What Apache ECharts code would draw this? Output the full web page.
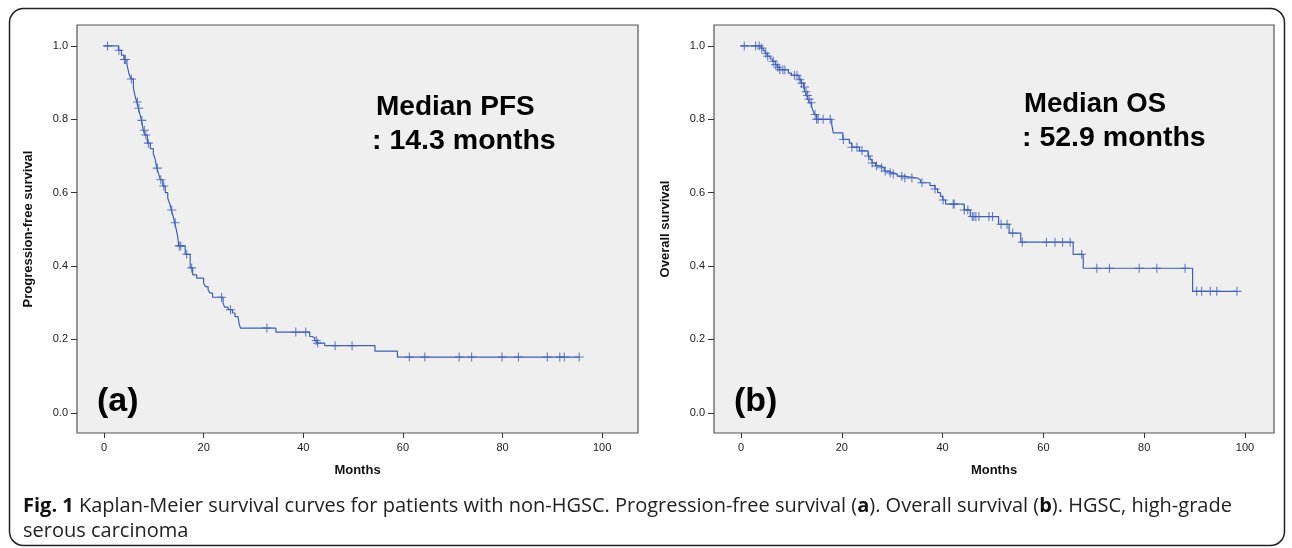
<!DOCTYPE html>
<html>
<head>
<meta charset="utf-8">
<script src="https://cdn.jsdelivr.net/npm/echarts@6/dist/echarts.min.js"></script>
<style>
  html, body { margin: 0; padding: 0; background: #fff; }
  #main { width: 1292px; height: 548px; }
</style>
</head>
<body>
<div id="main"></div>
<script>
// Kaplan-Meier curves
// events: [month, survival after the drop]
const pfsEvents = [
  [2.9, 0.988], [3.5, 0.975], [4.0, 0.963], [4.6, 0.95], [5.0, 0.925], [5.4, 0.91],
  [5.9, 0.885], [6.3, 0.86], [6.6, 0.847], [6.9, 0.83], [7.3, 0.81], [7.5, 0.797],
  [7.9, 0.77], [8.2, 0.757], [8.7, 0.735], [9.3, 0.72], [9.9, 0.706], [10.3, 0.69],
  [10.6, 0.667], [11.0, 0.65], [11.3, 0.635], [11.8, 0.618], [12.3, 0.60], [12.8, 0.585],
  [13.2, 0.57], [13.5, 0.553], [13.9, 0.535], [14.2, 0.518], [14.5, 0.50], [14.8, 0.48],
  [15.0, 0.455], [16.3, 0.432], [17.3, 0.395], [17.8, 0.376], [18.6, 0.367], [20.0, 0.353],
  [20.4, 0.344], [20.9, 0.335], [21.3, 0.326], [21.8, 0.315], [23.9, 0.299], [24.2, 0.288],
  [24.9, 0.281], [25.8, 0.272], [26.3, 0.262], [26.9, 0.257], [27.1, 0.244], [27.4, 0.231],
  [34.5, 0.22], [41.3, 0.208], [41.8, 0.204], [42.3, 0.197], [42.8, 0.19], [44.3, 0.183],
  [54.4, 0.168], [58.9, 0.152]
];
const pfsCensored = [
  0.7, 3.0, 4.1, 4.3, 5.5, 6.7, 7.0, 7.6, 8.1, 8.4, 8.9, 10.7, 11.4, 12.0, 13.6, 14.3,
  15.1, 15.4, 16.6, 17.6, 23.6, 25.4, 32.7, 38.5, 40.5, 42.6, 42.9, 46.4, 49.8,
  61.3, 64.4, 71.3, 73.8, 79.9, 83.2, 89.0, 91.5, 92.4, 95.4
];

const osEvents = [
  [4.0, 0.994], [4.4, 0.987], [4.8, 0.98], [5.2, 0.972], [5.8, 0.965], [6.2, 0.958],
  [6.8, 0.949], [7.2, 0.942], [7.6, 0.935], [9.4, 0.926], [10.0, 0.92], [11.5, 0.908],
  [11.9, 0.899], [12.4, 0.888], [12.7, 0.875], [13.0, 0.865], [13.3, 0.855], [13.6, 0.845],
  [14.0, 0.835], [14.3, 0.823], [14.6, 0.813], [15.0, 0.80], [18.0, 0.786], [18.3, 0.763],
  [20.2, 0.745], [21.5, 0.735], [22.0, 0.724], [23.5, 0.714], [25.2, 0.70], [25.6, 0.69],
  [26.0, 0.681], [26.7, 0.673], [27.7, 0.668], [28.4, 0.659], [29.3, 0.654], [30.0, 0.651],
  [31.0, 0.645], [32.3, 0.64], [35.0, 0.635], [35.6, 0.627], [37.5, 0.619], [38.5, 0.61],
  [39.0, 0.60], [39.6, 0.59], [40.0, 0.58], [40.6, 0.569], [44.3, 0.553], [45.5, 0.535],
  [51.1, 0.514], [53.2, 0.49], [55.5, 0.465], [65.9, 0.432], [67.9, 0.394], [89.6, 0.331]
];
const osCensored = [
  0.65, 2.9, 3.6, 4.1, 4.9, 5.3, 6.4, 6.9, 7.3, 7.7, 8.3, 8.7, 10.6, 11.1, 11.7, 12.0,
  12.6, 12.9, 13.2, 13.5, 13.9, 14.7, 15.0, 15.3, 16.3, 17.7, 20.3, 22.0, 23.0, 24.0,
  25.3, 26.0, 26.9, 27.9, 28.6, 29.6, 30.2, 31.9, 32.5, 33.9, 35.9, 38.5, 40.1, 42.1,
  42.3, 44.3, 45.0, 45.9, 46.2, 46.6, 47.2, 49.2, 49.9, 51.6, 52.8, 53.9, 55.8, 60.6,
  62.3, 63.8, 65.3, 67.6, 70.6, 73.1, 79.0, 82.5, 88.1, 90.4, 91.4, 93.1, 94.4, 98.4
];

const xTicks = [0, 20, 40, 60, 80, 100];
const yTicks = [0, 0.2, 0.4, 0.6, 0.8, 1.0];

const BLUE = '#3f5fb9';
const PLUS = 'path://M-5,-0.6H5V0.6H-5Z M-0.6,-5H0.6V5H-0.6Z';

function survivalAt(events, t) {
  let s = 1;
  events.forEach(e => { if (e[0] <= t) s = e[1]; });
  return s;
}
function stepLine(events, censored) {
  const last = censored[censored.length - 1];
  return [[0, 1]].concat(events, [[last, events[events.length - 1][1]]]);
}
function marks(events, censored) {
  return censored.map(t => [t, survivalAt(events, t)]);
}

const tickFont = { fontFamily: 'Liberation Sans Narrow, Liberation Sans, sans-serif', fontSize: 11, color: '#222' };
const nameFont = { fontFamily: 'Liberation Sans, Arial, sans-serif', fontSize: 13, fontWeight: 'bold', color: '#111' };

function xAxis(gi, min, max) {
  return {
    type: 'value', gridIndex: gi, min: min, max: max,
    name: 'Months', nameLocation: 'middle', nameGap: 31, nameTextStyle: nameFont,
    axisLine: { show: false, onZero: false },
    splitLine: { show: false },
    axisTick: { show: true, length: 5, customValues: xTicks, lineStyle: { color: '#333' } },
    axisLabel: Object.assign({ margin: 9, customValues: xTicks, formatter: v => String(v) }, tickFont)
  };
}
function yAxis(gi, name) {
  return {
    type: 'value', gridIndex: gi, min: -0.055, max: 1.057,
    name: name, nameLocation: 'middle', nameGap: 42, nameRotate: 90, nameTextStyle: nameFont,
    axisLine: { show: false, onZero: false },
    splitLine: { show: false },
    axisTick: { show: true, length: 6, customValues: yTicks, lineStyle: { color: '#333' } },
    axisLabel: Object.assign({ margin: 9, customValues: yTicks, formatter: v => v.toFixed(1) }, tickFont)
  };
}

const chart = echarts.init(document.getElementById('main'), null, { renderer: 'canvas' });

const bigFont = 'Liberation Sans, Arial, sans-serif';
const option = {
  animation: false,
  backgroundColor: '#fff',
  grid: [
    { left: 77, top: 25, width: 561, height: 408, show: true, backgroundColor: '#efefef', borderColor: '#555', borderWidth: 1.2 },
    { left: 714, top: 25, width: 560, height: 408, show: true, backgroundColor: '#efefef', borderColor: '#555', borderWidth: 1.2 }
  ],
  xAxis: [xAxis(0, -5.42, 107.2), xAxis(1, -5.36, 105.75)],
  yAxis: [yAxis(0, 'Progression-free survival'), yAxis(1, 'Overall survival')],
  series: [
    { type: 'line', xAxisIndex: 0, yAxisIndex: 0, step: 'end', symbol: 'none',
      lineStyle: { color: BLUE, width: 1.2 }, data: stepLine(pfsEvents, pfsCensored) },
    { type: 'scatter', xAxisIndex: 0, yAxisIndex: 0, symbol: PLUS, symbolSize: 9,
      itemStyle: { color: BLUE }, data: marks(pfsEvents, pfsCensored) },
    { type: 'line', xAxisIndex: 1, yAxisIndex: 1, step: 'end', symbol: 'none',
      lineStyle: { color: BLUE, width: 1.2 }, data: stepLine(osEvents, osCensored) },
    { type: 'scatter', xAxisIndex: 1, yAxisIndex: 1, symbol: PLUS, symbolSize: 9,
      itemStyle: { color: BLUE }, data: marks(osEvents, osCensored) }
  ],
  graphic: [
    { type: 'rect', shape: { x: 9.5, y: 8.5, width: 1275, height: 537, r: 14 }, z: -10,
      style: { fill: 'none', stroke: '#222', lineWidth: 1.5 } },
    { type: 'text', left: 376, top: 93, style: { text: 'Median PFS', font: 'bold 28px ' + bigFont, fill: '#000' } },
    { type: 'text', left: 372, top: 127, style: { text: ': 14.3 months', font: 'bold 28.5px ' + bigFont, fill: '#000' } },
    { type: 'text', left: 1024, top: 90, style: { text: 'Median OS', font: 'bold 27.5px ' + bigFont, fill: '#000' } },
    { type: 'text', left: 1022, top: 124, style: { text: ': 52.9 months', font: 'bold 28.5px ' + bigFont, fill: '#000' } },
    { type: 'text', left: 97, top: 385, style: { text: '(a)', font: 'bold 34px ' + bigFont, fill: '#000' } },
    { type: 'text', left: 734, top: 385, style: { text: '(b)', font: 'bold 34px ' + bigFont, fill: '#000' } },
    { type: 'text', left: 23, top: 494, style: {
        text: '{b|Fig. 1} Kaplan-Meier survival curves for patients with non-HGSC. Progression-free survival ({b|a}). Overall survival ({b|b}). HGSC, high-grade\nserous carcinoma',
        font: '20px Open Sans, sans-serif', fill: '#222', lineHeight: 25,
        rich: { b: { fontWeight: 'bold', fontSize: 20, fontFamily: 'Open Sans, sans-serif', fill: '#111' } }
      } }
  ]
};
chart.setOption(option);
</script>
</body>
</html>
